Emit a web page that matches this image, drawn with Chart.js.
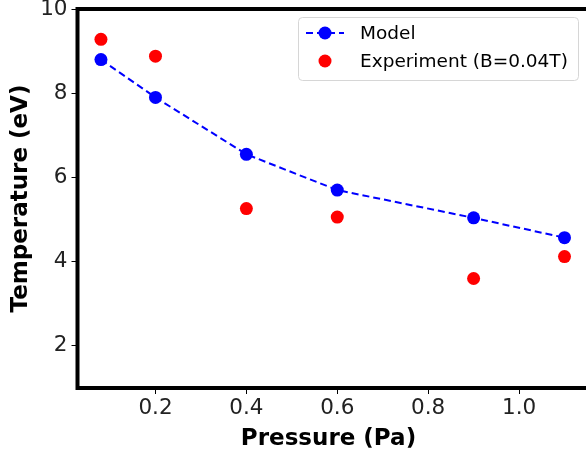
<!DOCTYPE html>
<html>
<head>
<meta charset="utf-8">
<script src="https://cdn.jsdelivr.net/npm/chart.js@4"></script>
<style>
  html, body { margin: 0; padding: 0; background: #fff; overflow: hidden; }
  #wrap { width: 586px; height: 459px; }
</style>
</head>
<body>
<div id="wrap"><canvas id="temp"></canvas></div>
<script>
// values
const pressure = [0.08, 0.2, 0.4, 0.6, 0.9, 1.1];
const modelTemp = [8.8, 7.9, 6.55, 5.7, 5.04, 4.57];
const expTemp = [9.28, 8.88, 5.26, 5.06, 3.6, 4.12];
const xTicks = [0.2, 0.4, 0.6, 0.8, 1.0];
const yTicks = [2, 4, 6, 8, 10];

const font = "'DejaVu Sans', sans-serif";

// frame round the plot + legend inside upper right, like matplotlib
// (right spine of the original is cropped off, so run the frame past the edge)
const framePlugin = {
  id: 'frame',
  afterDraw(chart) {
    const ctx = chart.ctx;
    const a = chart.chartArea;
    ctx.save();
    ctx.strokeStyle = '#000';
    ctx.lineWidth = 4;
    ctx.strokeRect(a.left, a.top, chart.width + 4 - a.left, a.bottom - a.top);

    // legend box
    const bx = 298, by = 17, bw = 280, bh = 63;
    ctx.fillStyle = 'rgba(255,255,255,0.8)';
    ctx.strokeStyle = '#d6d6d6';
    ctx.lineWidth = 1;
    ctx.beginPath();
    ctx.roundRect(bx + 0.5, by + 0.5, bw, bh, 4);
    ctx.fill();
    ctx.stroke();

    const ds = chart.data.datasets;
    ctx.font = '18.5px ' + font;
    ctx.textBaseline = 'middle';
    ds.forEach((d, i) => {
      const y = by + 16 + i * 28;
      if (d.showLine) {
        ctx.strokeStyle = d.borderColor;
        ctx.lineWidth = d.borderWidth;
        ctx.setLineDash(d.borderDash);
        ctx.beginPath();
        ctx.moveTo(bx + 8, y);
        ctx.lineTo(bx + 46, y);
        ctx.stroke();
        ctx.setLineDash([]);
      }
      ctx.fillStyle = d.pointBackgroundColor;
      ctx.beginPath();
      ctx.arc(bx + 27, y, d.pointRadius, 0, Math.PI * 2);
      ctx.fill();
      ctx.fillStyle = '#000';
      ctx.fillText(d.label, bx + 62, y + 1);
    });
    ctx.restore();
  }
};

new Chart(document.getElementById('temp'), {
  type: 'scatter',
  data: {
    datasets: [
      {
        label: 'Model',
        data: pressure.map((p, i) => ({x: p, y: modelTemp[i]})),
        showLine: true,
        borderColor: '#0000ff',
        borderWidth: 2,
        borderDash: [7, 4],
        pointBackgroundColor: '#0000ff',
        pointBorderWidth: 0,
        pointRadius: 6.5
      },
      {
        label: 'Experiment (B=0.04T)',
        data: pressure.map((p, i) => ({x: p, y: expTemp[i]})),
        showLine: false,
        borderColor: '#ff0000',
        pointBackgroundColor: '#ff0000',
        pointBorderWidth: 0,
        pointRadius: 6.5
      }
    ]
  },
  options: {
    responsive: true,
    maintainAspectRatio: false,
    animation: false,
    layout: { padding: { top: 9, right: 0, left: 7, bottom: 6 } },
    plugins: { legend: { display: false }, tooltip: { enabled: false } },
    scales: {
      x: {
        type: 'linear',
        min: 0.0284,
        max: 1.133,
        afterBuildTicks: s => { s.ticks = xTicks.map(v => ({value: v})); },
        afterFit: s => { s.height = 65; s.paddingLeft = 0; s.paddingRight = 0; },
        grid: { drawOnChartArea: false, drawTicks: true, tickLength: 6, color: '#000', lineWidth: 1 },
        border: { display: false },
        ticks: {
          color: '#222', padding: 2,
          font: { family: font, size: 21.5 },
          callback: v => v.toFixed(1)
        },
        title: {
          display: true, text: 'Pressure (Pa)', color: '#000',
          font: { family: font, size: 23, weight: 'bold' },
          padding: { top: 0, bottom: 0 }
        }
      },
      y: {
        min: 1,
        max: 10,
        afterBuildTicks: s => { s.ticks = yTicks.map(v => ({value: v})); },
        afterFit: s => { s.width = 70.5; s.paddingTop = 0; s.paddingBottom = 0; },
        grid: { drawOnChartArea: false, drawTicks: true, tickLength: 6, color: '#000', lineWidth: 1 },
        border: { display: false },
        ticks: {
          color: '#222', padding: 4,
          font: { family: font, size: 21.5 }
        },
        title: {
          display: true, text: 'Temperature (eV)', color: '#000',
          font: { family: font, size: 23, weight: 'bold' },
          padding: { top: 0, bottom: 4 }
        }
      }
    }
  },
  plugins: [framePlugin]
});
</script>
</body>
</html>
